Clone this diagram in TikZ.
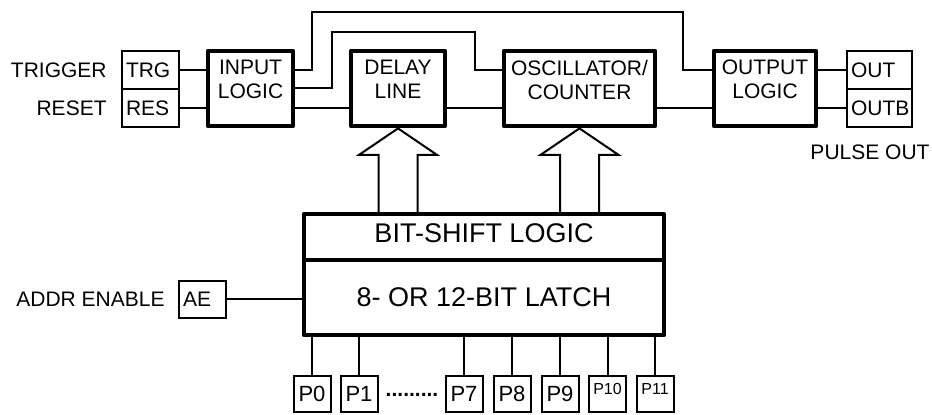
\documentclass[tikz,border=0pt]{standalone}
\usepackage{fontspec}
\setmainfont{Liberation Sans}
\usetikzlibrary{positioning}

\begin{document}
\begin{tikzpicture}[
    x=0.5pt, y=-0.5pt,
    every node/.style={font=\fontsize{10.5}{12}\selectfont},
    blockbox/.style={draw, line width=2.4pt, line join=round, minimum height=37.5pt, align=center, inner sep=0pt, text depth=9pt},
    sigbox/.style={draw, line width=1pt, minimum height=19pt, inner sep=2pt, align=left},
    pinbox/.style={draw, line width=1pt, minimum width=18.5pt, minimum height=18pt, inner sep=0pt, font=\fontsize{11}{12}\selectfont},
    smallpin/.style={pinbox, font=\fontsize{8}{9}\selectfont, text height=6pt, text depth=5pt},
    sigtext/.style={inner sep=0pt},
    wire/.style={line width=1pt},
    bigarrow/.style={line width=1pt, line join=miter}
]
\useasboundingbox (0,0) rectangle (932,415);

% Input pins
\node[sigbox, minimum width=28.5pt, text width=24.5pt] (trg) at (150.5,70) {TRG};
\node[sigbox, minimum width=28.5pt, text width=24.5pt] (res) at (150.5,108) {RES};
\node[sigtext, left=7pt of trg] (trglbl) {TRIGGER};
\node[sigtext, left=7pt of res] (reslbl) {RESET};

% Top row of blocks
\node[blockbox, minimum width=42.5pt] (inlog) at (250.5,88.5) {INPUT\\LOGIC};
\node[blockbox, minimum width=47pt] (delay) at (398,88.5) {DELAY\\LINE};
\node[blockbox, minimum width=75.5pt] (osc) at (579.5,88.5) {OSCILLATOR/\\COUNTER};
\node[blockbox, minimum width=51pt] (outlog) at (765,88.5) {OUTPUT\\LOGIC};

% Output pins
\node[sigbox, minimum width=32.5pt, text width=28.5pt] (out) at (879.5,70) {OUT};
\node[sigbox, minimum width=32.5pt, text width=28.5pt] (outb) at (879.5,108) {OUTB};
\node[sigtext] (pulselbl) at (870,152) {PULSE OUT};

% Wiring of the top row
\draw[wire] (trg.east) -- (trg.east -| inlog.west);
\draw[wire] (res.east) -- (res.east -| inlog.west);
\draw[wire] (inlog.east |- trg) -| (312,12) -| (683,70) -- (outlog.west |- out);
\draw[wire] (inlog.east) -| (332,32) -| (475,70) -- (osc.west |- trg);
\draw[wire] (inlog.east |- res) -- (delay.west |- res);
\draw[wire] (delay.east |- res) -- (osc.west |- res);
\draw[wire] (osc.east |- res) -- (outlog.west |- res);
\draw[wire] (outlog.east |- out) -- (out.west);
\draw[wire] (outlog.east |- outb) -- (outb.west);

% Bit-shift logic and latch
\node[blockbox, minimum width=180pt, minimum height=23pt, text depth=4pt, font=\fontsize{13.5}{15}\selectfont] (bsl) at (484,237) {BIT-SHIFT LOGIC};
\node[blockbox, minimum width=180pt, text depth=0pt, font=\fontsize{13.5}{15}\selectfont] (latch) at (484,297.5) {8- OR 12-BIT LATCH};

% Block arrows up to delay line and oscillator
\draw[bigarrow] (delay.south) ++(-19.5,84) -- ++(0,-57.5) -- ++(-19.5,0) -- (delay.south) -- ++(39,26.5) -- ++(-19.5,0) -- ++(0,57.5);
\draw[bigarrow] (osc.south) ++(-19.5,84) -- ++(0,-57.5) -- ++(-19.5,0) -- (osc.south) -- ++(39,26.5) -- ++(-19.5,0) -- ++(0,57.5);

% Address enable
\node[sigbox, minimum width=23.5pt, minimum height=18.5pt, text width=19.5pt] (ae) at (202.5,299.5) {AE};
\node[sigtext, left=6.5pt of ae] (aelbl) {ADDR ENABLE};
\draw[wire] (ae.east) -- (ae.east -| latch.west);

% Program pins
\node[pinbox] (p0) at (312,394) {P0};
\node[pinbox] (p1) at (359,394) {P1};
\node[font=\fontsize{10.5}{12}\selectfont\bfseries] (dots) at (412,395) {.........};
\node[pinbox] (p7) at (464,394) {P7};
\node[pinbox] (p8) at (512,394) {P8};
\node[pinbox] (p9) at (560,394) {P9};
\node[smallpin] (p10) at (607.5,394) {P10};
\node[smallpin] (p11) at (655,394) {P11};
\draw[wire] (latch.south -| p0) -- (p0);
\draw[wire] (latch.south -| p1) -- (p1);
\draw[wire] (latch.south -| p7) -- (p7);
\draw[wire] (latch.south -| p8) -- (p8);
\draw[wire] (latch.south -| p9) -- (p9);
\draw[wire] (latch.south -| p10) -- (p10);
\draw[wire] (latch.south -| p11) -- (p11);
\end{tikzpicture}
\end{document}
